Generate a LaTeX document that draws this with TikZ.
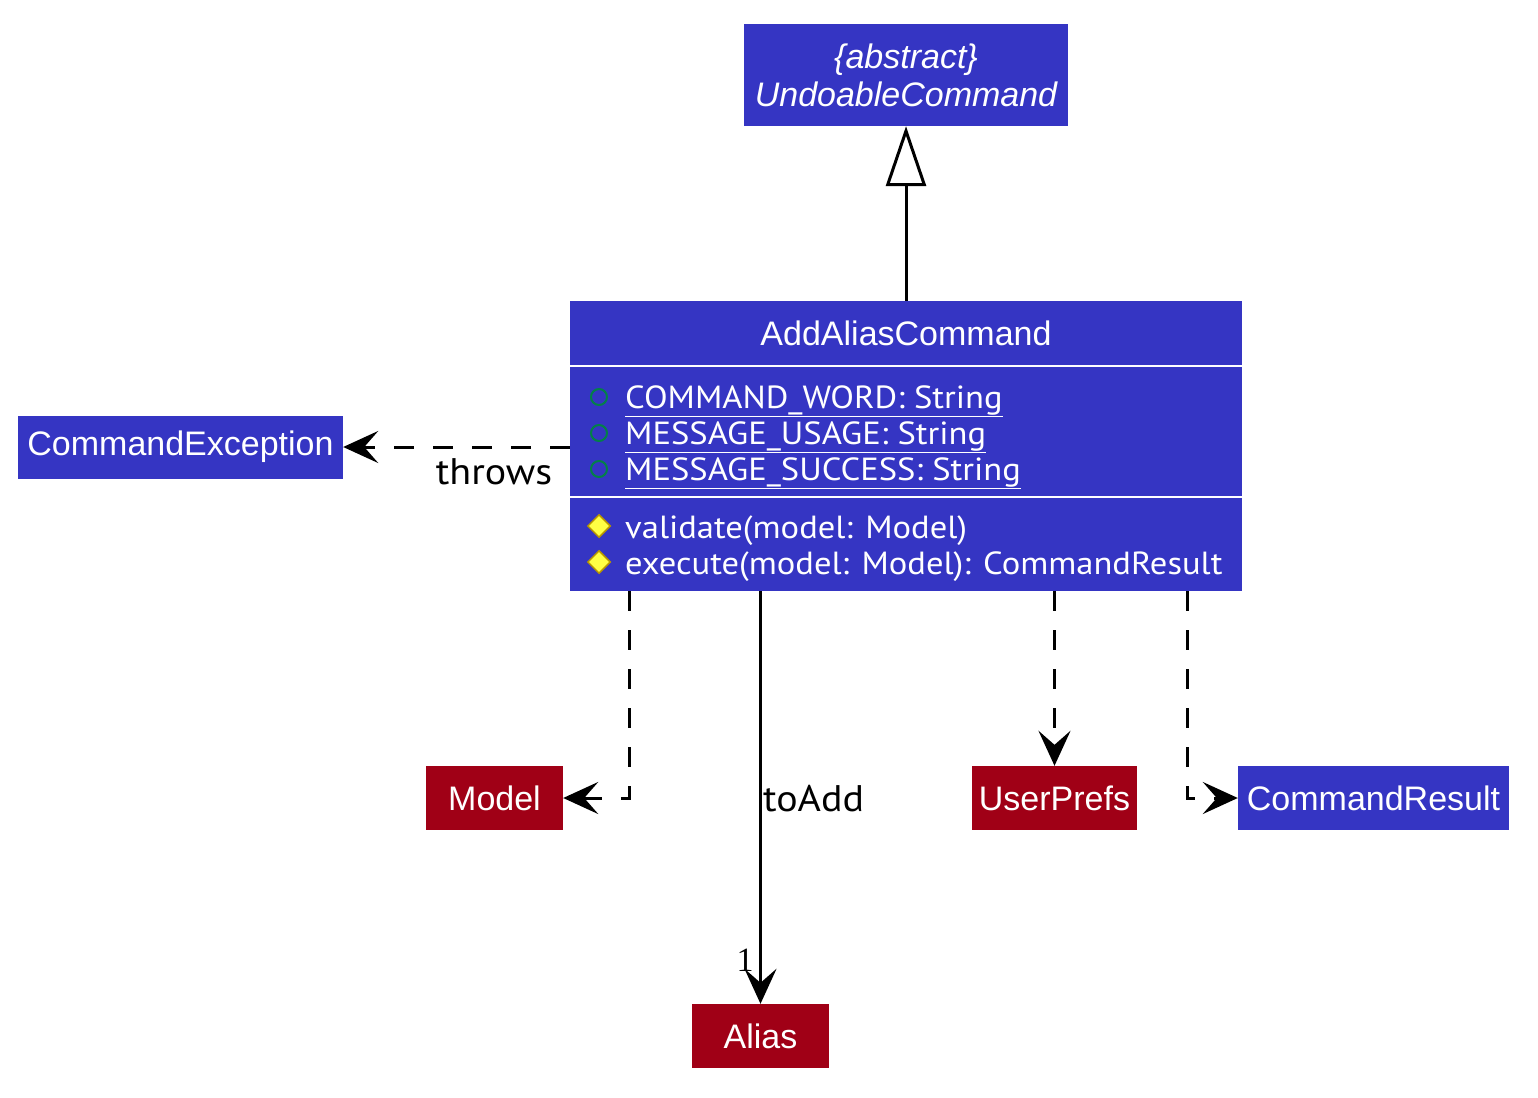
\documentclass[tikz,border=0pt]{standalone}
\usepackage{fontspec}
\setmainfont{Liberation Sans}
\newfontfamily\memfont[FakeStretch=1.08]{PT Sans}
\newfontfamily\numfont{Liberation Serif}
\usetikzlibrary{arrows.meta,shapes.geometric}
\definecolor{clsblue}{RGB}{53,53,195}
\definecolor{clsred}{RGB}{160,0,22}
\definecolor{pubgreen}{RGB}{3,128,72}
\definecolor{diafill}{RGB}{255,255,68}
\definecolor{diaedge}{RGB}{184,150,0}
\newcommand{\ul}[1]{\underline{#1}}
\tikzset{
  bluebox/.style={rectangle, fill=clsblue, text=white, inner sep=0pt, font=\fontsize{34}{40}\selectfont},
  redbox/.style={rectangle, fill=clsred, text=white, inner sep=0pt, font=\fontsize{34}{40}\selectfont},
  member/.style={anchor=base west, text=white, inner sep=0pt, font=\memfont\fontsize{32}{36}\selectfont},
  lbl/.style={inner sep=0pt, font=\memfont\fontsize{37}{42}\selectfont},
  dep/.style={line width=3pt, dash pattern=on 20pt off 19pt, -{Stealth[length=35pt,width=32pt,inset=14pt]}},
  assoc/.style={line width=3pt, -{Stealth[length=35pt,width=32pt,inset=14pt]}},
  gen/.style={line width=3pt, -{Triangle[open,length=60pt,width=40pt,line width=3pt]}},
  pubfield/.style={draw=pubgreen, line width=2pt, circle, minimum size=16pt, inner sep=0pt},
  protmeth/.style={draw=diaedge, fill=diafill, line width=1.5pt, diamond, minimum size=23pt, inner sep=0pt}
}
\begin{document}
\begin{tikzpicture}[x=1pt,y=-1pt]
\useasboundingbox (0,0) rectangle (1538,1097);
% UndoableCommand
\node[bluebox, minimum width=324pt, minimum height=102pt, align=center] (uc) at (906,75)
  {\itshape\{abstract\}\\[-2pt]\itshape UndoableCommand};
% AddAliasCommand
\node[bluebox, minimum width=672pt, minimum height=290pt] (aac) at (906,446) {};
\node[text=white, inner sep=0pt, font=\fontsize{34}{40}\selectfont] (aactitle) at (906,333) {AddAliasCommand};
\draw[white, line width=2.5pt] (570,366) -- (1242,366);
\draw[white, line width=2.5pt] (570,497) -- (1242,497);
\node[pubfield] (f1) at (599,397) {};
\node[pubfield] (f2) at (599,433) {};
\node[pubfield] (f3) at (599,469) {};
\node[member] (t1) at (625,408) {\ul{COMMAND\_WORD: String}};
\node[member] (t2) at (625,444) {\ul{MESSAGE\_USAGE: String}};
\node[member] (t3) at (625,480) {\ul{MESSAGE\_SUCCESS: String}};
\node[protmeth] (m1) at (599,526) {};
\node[protmeth] (m2) at (599,562) {};
\node[member] (t4) at (625,538) {validate(model: Model)};
\node[member] (t5) at (625,574) {execute(model: Model): CommandResult};
% Other classes
\node[bluebox, minimum width=325pt, minimum height=63pt] (ce) at (180.5,447) {CommandException};
\node[redbox, minimum width=137pt, minimum height=64pt] (model) at (494.5,798) {Model};
\node[redbox, minimum width=165pt, minimum height=64pt] (up) at (1054.5,798) {UserPrefs};
\node[bluebox, minimum width=271pt, minimum height=64pt] (cr) at (1373.5,798) {CommandResult};
\node[redbox, minimum width=137pt, minimum height=64pt] (alias) at (760.5,1036) {Alias};
% Edges
\draw[gen] (aac.north) -- (uc.south);
\draw[dep] (aac.west |- ce.east) -- (ce.east);
\draw[dep] ([xshift=-277pt]aac.south) |- (model.east);
\draw[assoc] (alias.north |- aac.south) -- (alias.north);
\draw[dep] (up.north |- aac.south) -- (up.north);
\draw[dep] ([xshift=281pt]aac.south) |- (cr.west);
% Labels
\node[lbl] (lthrows) at (494,472) {throws};
\node[lbl, anchor=west] (ltoadd) at (763,799) {toAdd};
\node[inner sep=0pt, font=\numfont\fontsize{34}{38}\selectfont] (lone) at (745,960) {1};
\end{tikzpicture}
\end{document}
